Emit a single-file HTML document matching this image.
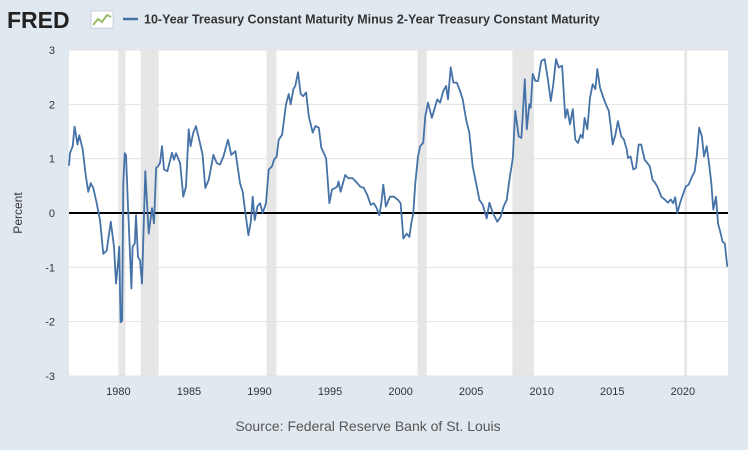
<!DOCTYPE html>
<html><head><meta charset="utf-8"><style>
body{margin:0;background:#e1e9f0;}
svg{display:block;font-family:"Liberation Sans",sans-serif;}
</style></head><body>
<svg id="chart" width="748" height="450" viewBox="0 0 748 450">
<rect x="0" y="0" width="748" height="450" fill="#e1e9f0"/>
<g>
<text x="7" y="28" font-size="23" font-weight="bold" fill="#222">FRED</text>
<rect x="91" y="11" width="22" height="17" fill="#fff" stroke="#aac" stroke-width="0.5"/>
<polyline points="93,25 98,19 102,22 107,15 111,17" fill="none" stroke="#9b6" stroke-width="2"/>
</g>
<g>
<line x1="123" y1="19" x2="138" y2="19" stroke="#4572a7" stroke-width="2.5"/>
<text x="144" y="23.5" font-size="12.5" font-weight="bold" fill="#333">10-Year Treasury Constant Maturity Minus 2-Year Treasury Constant Maturity</text>
</g>
<rect x="69" y="50" width="659" height="326" fill="#fff"/>
<g id="recessions"></g>
<g id="grid"></g>
<g id="yticks"></g>
<g id="xticks"></g>
<line id="zero" x1="69" x2="728" stroke="#000" stroke-width="2"/>
<path id="series" fill="none" stroke="#4572a7" stroke-width="1.8" stroke-linejoin="round"/>
<text x="22" y="213" font-size="12" fill="#333" text-anchor="middle" transform="rotate(-90 22 213)">Percent</text>
<text x="368" y="431" font-size="14" fill="#555" text-anchor="middle">Source: Federal Reserve Bank of St. Louis</text>
</svg>
<script>
const years = [1976.5,1976.57,1976.76,1976.9,1977.1,1977.23,1977.47,1977.7,1977.87,1978.04,1978.22,1978.46,1978.7,1978.93,1979.17,1979.46,1979.69,1979.83,1979.97,1980.06,1980.16,1980.26,1980.35,1980.45,1980.54,1980.68,1980.82,1980.92,1981.01,1981.16,1981.25,1981.39,1981.53,1981.67,1981.91,1982.15,1982.38,1982.52,1982.67,1982.81,1982.95,1983.09,1983.23,1983.47,1983.8,1983.94,1984.08,1984.37,1984.6,1984.79,1984.98,1985.12,1985.31,1985.5,1985.73,1985.97,1986.16,1986.4,1986.73,1986.97,1987.2,1987.44,1987.77,1988.0,1988.29,1988.62,1988.81,1989.0,1989.21,1989.38,1989.52,1989.66,1989.85,1990.04,1990.23,1990.46,1990.65,1990.89,1991.03,1991.22,1991.36,1991.6,1991.88,1992.07,1992.21,1992.4,1992.54,1992.73,1992.92,1993.1,1993.3,1993.49,1993.77,1993.96,1994.2,1994.38,1994.72,1994.95,1995.14,1995.37,1995.51,1995.6,1995.75,1996.07,1996.3,1996.6,1996.93,1997.12,1997.4,1997.64,1997.88,1998.1,1998.3,1998.49,1998.63,1998.77,1998.96,1999.25,1999.53,1999.82,2000.0,2000.2,2000.43,2000.62,2000.76,2000.9,2001.04,2001.23,2001.38,2001.6,2001.75,2001.94,2002.22,2002.46,2002.6,2002.8,2003.03,2003.22,2003.36,2003.55,2003.74,2003.98,2004.21,2004.4,2004.64,2004.87,2005.11,2005.35,2005.58,2005.82,2006.1,2006.29,2006.53,2006.85,2007.09,2007.3,2007.52,2007.71,2007.95,2008.13,2008.37,2008.56,2008.8,2008.94,2009.12,2009.22,2009.36,2009.55,2009.74,2009.97,2010.21,2010.45,2010.64,2010.82,2011.01,2011.2,2011.44,2011.67,2011.81,2012.0,2012.2,2012.38,2012.57,2012.76,2012.9,2013.04,2013.23,2013.42,2013.61,2013.8,2013.94,2014.13,2014.37,2014.6,2014.75,2014.89,2015.03,2015.22,2015.4,2015.64,2015.83,2016.02,2016.11,2016.3,2016.49,2016.68,2016.87,2017.05,2017.29,2017.48,2017.66,2017.86,2018.05,2018.24,2018.47,2018.71,2018.95,2019.14,2019.32,2019.46,2019.61,2019.8,2019.99,2020.22,2020.41,2020.65,2020.84,2020.98,2021.16,2021.35,2021.5,2021.69,2021.88,2022.02,2022.16,2022.35,2022.49,2022.68,2022.82,2022.97,2023.15];
const spread = [0.87,1.1,1.23,1.59,1.26,1.43,1.17,0.67,0.39,0.55,0.46,0.18,-0.13,-0.75,-0.69,-0.16,-0.62,-1.3,-0.93,-0.62,-2.01,-1.98,0.55,1.1,1.07,0.12,-0.75,-1.39,-0.62,-0.56,-0.04,-0.81,-0.87,-1.3,0.77,-0.38,0.09,-0.19,0.83,0.86,0.92,1.23,0.8,0.77,1.11,0.98,1.1,0.92,0.3,0.49,1.54,1.23,1.48,1.6,1.35,1.07,0.46,0.61,1.07,0.92,0.89,1.04,1.35,1.07,1.14,0.55,0.39,0.0,-0.41,-0.16,0.3,-0.13,0.12,0.18,0.0,0.18,0.8,0.86,0.98,1.04,1.35,1.44,2.0,2.19,2.0,2.28,2.34,2.59,2.19,2.15,2.22,1.78,1.48,1.6,1.57,1.2,1.01,0.18,0.43,0.46,0.49,0.58,0.39,0.7,0.64,0.64,0.55,0.49,0.46,0.33,0.15,0.18,0.09,-0.04,0.18,0.52,0.12,0.3,0.3,0.24,0.18,-0.47,-0.38,-0.44,-0.19,0.0,0.55,1.04,1.23,1.29,1.78,2.03,1.75,1.97,2.09,2.03,2.25,2.34,2.09,2.68,2.4,2.4,2.25,2.09,1.72,1.48,0.86,0.55,0.24,0.15,-0.1,0.19,0.0,-0.16,-0.07,0.12,0.24,0.61,1.01,1.88,1.41,1.38,2.46,1.54,2.0,1.94,2.56,2.43,2.43,2.8,2.83,2.43,2.06,2.37,2.83,2.68,2.71,1.75,1.91,1.63,1.91,1.35,1.29,1.44,1.38,1.75,1.54,2.12,2.37,2.28,2.65,2.31,2.12,1.97,1.88,1.6,1.26,1.44,1.69,1.41,1.35,1.17,1.01,1.04,0.8,0.83,1.26,1.26,0.98,0.92,0.86,0.61,0.55,0.46,0.3,0.25,0.19,0.25,0.18,0.29,0.0,0.18,0.33,0.49,0.52,0.67,0.77,1.04,1.57,1.41,1.04,1.23,0.86,0.55,0.06,0.3,-0.19,-0.38,-0.53,-0.56,-0.99];
const recessionStarts = [1980.0,1981.58,1990.5,2001.2,2007.92,2020.1];
const recessionEnds = [1980.5,1982.85,1991.2,2001.85,2009.45,2020.3];
const yTickValues = [3,2,1,0,-1,-2,-3];
const xTickYears = [1980,1985,1990,1995,2000,2005,2010,2015,2020];

const X0=69,X1=728,Y0=50,Y1=376;
const xMin=1976.5,xMax=2023.2,yMin=-3,yMax=3;
function xs(v){return X0+(v-xMin)/(xMax-xMin)*(X1-X0);}
function ys(v){return Y1-(v-yMin)/(yMax-yMin)*(Y1-Y0);}
const NS="http://www.w3.org/2000/svg";
function mk(tag,attrs,parent){const e=document.createElementNS(NS,tag);for(const k in attrs)e.setAttribute(k,attrs[k]);parent.appendChild(e);return e;}

const rg=document.getElementById('recessions');
recessionStarts.forEach((s,i)=>{
  const r=mk('rect',{x:xs(s),y:Y0,width:xs(recessionEnds[i])-xs(s),height:Y1-Y0,fill:'#e6e6e6'},rg);
  
  
});
const gg=document.getElementById('grid'),yt=document.getElementById('yticks');
yTickValues.forEach(v=>{
  if(v!==0){const l=mk('line',{x1:X0,x2:X1,y1:ys(v),y2:ys(v),stroke:'#e3e3e3','stroke-width':1},gg);
  
  }
  const t=mk('text',{x:55,y:ys(v)+4,'font-size':11,fill:'#333','text-anchor':'end'},yt);
  t.textContent=v;
  
  
});
const xt=document.getElementById('xticks');
xTickYears.forEach(v=>{
  const t=mk('text',{x:xs(v),y:395,'font-size':11,fill:'#333','text-anchor':'middle'},xt);
  t.textContent=v;
  
  
});
const z=document.getElementById('zero');z.setAttribute('y1',ys(0));z.setAttribute('y2',ys(0));
document.getElementById('series').setAttribute('d',years.map((y,i)=>(i?'L':'M')+xs(y).toFixed(1)+','+ys(spread[i]).toFixed(1)).join(''));
</script>
</body></html>
